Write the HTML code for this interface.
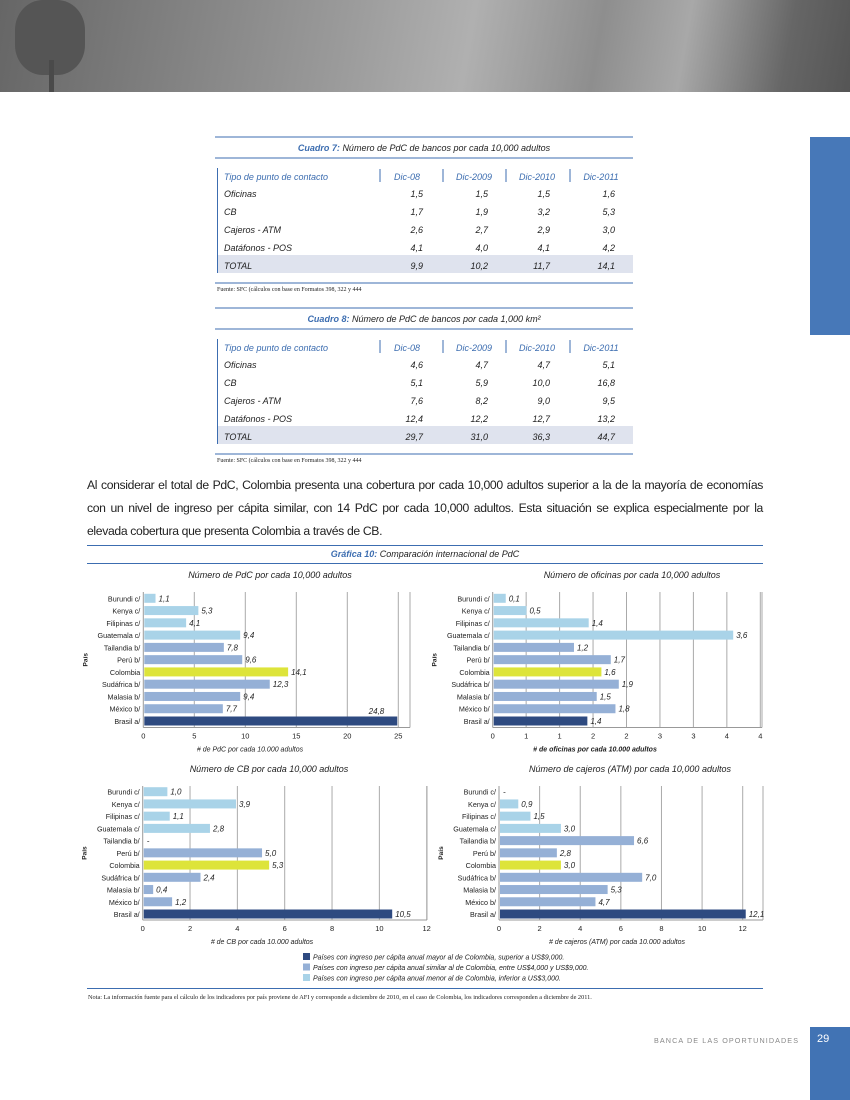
<!DOCTYPE html>
<html><head><meta charset="utf-8">
<style>
html,body{margin:0;padding:0;background:#fff;}
body{width:850px;height:1100px;position:relative;overflow:hidden;font-family:"Liberation Sans",sans-serif;}
.para{position:absolute;left:87px;width:676px;top:474px;font-size:12.2px;line-height:23px;text-align:justify;color:#222;letter-spacing:-0.35px;}
</style></head>
<body>
<div style="position:absolute;left:0;top:0;width:850px;height:92px;background:linear-gradient(100deg,#666 0%,#808080 20%,#9a9a9a 40%,#b0b0b0 55%,#8e8e8e 70%,#a8a8a8 80%,#666 92%,#555 100%);"></div>
<div style="position:absolute;left:15px;top:0;width:70px;height:75px;border-radius:40%;background:#555;"></div>
<div style="position:absolute;left:49px;top:60px;width:5px;height:32px;background:#4a4a4a;"></div>
<div style="position:absolute;left:810px;top:137px;width:40px;height:198px;background:#4778b8;"></div>
<div style="position:absolute;left:810px;top:1027px;width:40px;height:73px;background:#4173b4;"></div>
<div style="position:absolute;left:817px;top:1033px;color:#fff;font-size:11px;">29</div>
<div style="position:absolute;left:654px;top:1036px;color:#888;font-size:7.2px;letter-spacing:1.1px;">BANCA DE LAS OPORTUNIDADES</div>
<p class="para" style="margin:0;">Al considerar el total de PdC, Colombia presenta una cobertura por cada 10,000 adultos superior a la de la mayoría de economías con un nivel de ingreso per cápita similar, con 14 PdC por cada 10,000 adultos. Esta situación se explica especialmente por la elevada cobertura que presenta Colombia a través de CB.</p>
<svg id="pg" width="850" height="1100" style="position:absolute;left:0;top:0;" xmlns="http://www.w3.org/2000/svg" font-family="Liberation Sans, sans-serif"></svg>
<script>
// ---- table data ----
const tableYears = ["Dic-08","Dic-2009","Dic-2010","Dic-2011"];
const tableRows = ["Oficinas","CB","Cajeros - ATM","Datáfonos - POS","TOTAL"];
const t7Values = [["1,5","1,5","1,5","1,6"],["1,7","1,9","3,2","5,3"],["2,6","2,7","2,9","3,0"],["4,1","4,0","4,1","4,2"],["9,9","10,2","11,7","14,1"]];
const t8Values = [["4,6","4,7","4,7","5,1"],["5,1","5,9","10,0","16,8"],["7,6","8,2","9,0","9,5"],["12,4","12,2","12,7","13,2"],["29,7","31,0","36,3","44,7"]];
// ---- chart data ----
const countries = ["Burundi c/","Kenya c/","Filipinas c/","Guatemala c/","Tailandia b/","Perú b/","Colombia","Sudáfrica b/","Malasia b/","México b/","Brasil a/"];
const groups = ["c","c","c","c","b","b","col","b","b","b","a"];
const pdcValues = [1.1,5.3,4.1,9.4,7.8,9.6,14.1,12.3,9.4,7.7,24.8];
const pdcLabels = ["1,1","5,3","4,1","9,4","7,8","9,6","14,1","12,3","9,4","7,7","24,8"];
const ofiValues = [0.1,0.5,1.4,3.6,1.2,1.7,1.6,1.9,1.5,1.8,1.4];
const ofiBarValues = [0.18,0.49,1.42,3.58,1.2,1.75,1.61,1.87,1.54,1.82,1.4];
const ofiLabels = ["0,1","0,5","1,4","3,6","1,2","1,7","1,6","1,9","1,5","1,8","1,4"];
const cbValues = [1.0,3.9,1.1,2.8,0,5.0,5.3,2.4,0.4,1.2,10.5];
const cbLabels = ["1,0","3,9","1,1","2,8","-","5,0","5,3","2,4","0,4","1,2","10,5"];
const atmValues = [0,0.9,1.5,3.0,6.6,2.8,3.0,7.0,5.3,4.7,12.1];
const atmLabels = ["-","0,9","1,5","3,0","6,6","2,8","3,0","7,0","5,3","4,7","12,1"];
const pdcTicks = ["0","5","10","15","20","25"];
const ofiTicks = ["0","1","1","2","2","3","3","4","4"];
const cbTicks = ["0","2","4","6","8","10","12"];
const atmTicks = ["0","2","4","6","8","10","12"];
const legendItems = ["Países con ingreso per cápita anual mayor al de Colombia, superior a US$9,000.","Países con ingreso per cápita anual similar al de Colombia, entre US$4,000 y US$9,000.","Países con ingreso per cápita anual menor al de Colombia, inferior a US$3,000."];

const NS="http://www.w3.org/2000/svg";
const svg=document.getElementById('pg');
function mk(tag,attrs,parent,text){const e=document.createElementNS(NS,tag);for(const k in attrs)e.setAttribute(k,attrs[k]);if(text!==undefined)e.textContent=text;(parent||svg).appendChild(e);return e;}
const BLUE="#3c6db0";

function table(y0,titleNum,titleText,vals,name){
  const g=mk('g',{});
  
  
  mk('line',{x1:215,x2:633,y1:y0,y2:y0,stroke:BLUE,'stroke-width':1},g);
  const t=mk('text',{x:424,y:y0+14,'text-anchor':'middle','font-size':9,'font-style':'italic',fill:'#222'},g);
  mk('tspan',{fill:BLUE,'font-weight':'bold'},t,titleNum+' ');
  mk('tspan',{},t,titleText);
  mk('line',{x1:215,x2:633,y1:y0+21,y2:y0+21,stroke:BLUE,'stroke-width':1},g);
  mk('rect',{x:217,y:y0+118,width:416,height:18,fill:'#dfe3ee'},g);
  mk('line',{x1:217.5,x2:217.5,y1:y0+31,y2:y0+136,stroke:BLUE},g);
  [380,443,506,570].forEach(x=>mk('line',{x1:x,x2:x,y1:y0+32,y2:y0+45,stroke:BLUE},g));
  mk('text',{x:224,y:y0+43,'font-size':9,'font-style':'italic',fill:BLUE},g,'Tipo de punto de contacto');
  const hx=[407,474,537,601], vx=[423,488,550,615];
  tableYears.forEach((h,i)=>mk('text',{x:hx[i],y:y0+43,'text-anchor':'middle','font-size':9,'font-style':'italic',fill:BLUE},g,h));
  tableRows.forEach((r,j)=>{
    const yy=y0+60+j*18;
    mk('text',{x:224,y:yy,'font-size':9,'font-style':'italic',fill:'#222'},g,r);
    vals[j].forEach((v,i)=>mk('text',{x:vx[i],y:yy,'text-anchor':'end','font-size':9,'font-style':'italic',fill:'#222'},g,v));
  });
  mk('line',{x1:215,x2:633,y1:y0+146,y2:y0+146,stroke:BLUE},g);
  mk('text',{x:217,y:y0+154,'font-size':6,fill:'#222','font-family':'Liberation Serif, serif'},g,'Fuente: SFC (cálculos con base en Formatos 398, 322 y 444');
}
table(137,'Cuadro 7:','Número de PdC de bancos por cada 10,000 adultos',t7Values,'table-cuadro-7');
table(308,'Cuadro 8:','Número de PdC de bancos por cada 1,000 km²',t8Values,'table-cuadro-8');

// graph header
mk('line',{x1:87,x2:763,y1:545.5,y2:545.5,stroke:BLUE});
const gt=mk('text',{x:425,y:557,'text-anchor':'middle','font-size':9,'font-style':'italic',fill:'#222'});


mk('tspan',{fill:BLUE,'font-weight':'bold'},gt,'Gráfica 10: ');
mk('tspan',{},gt,'Comparación internacional de PdC');
mk('line',{x1:87,x2:763,y1:563.5,y2:563.5,stroke:BLUE});

const colors={a:'#2e4a80',b:'#95b0d6',c:'#a9d3e8',col:'#dde43a'};
function chart(cfg){
  const g=mk('g',{});
  
  
  const xs=v=>cfg.x0+(v/cfg.max)*(cfg.x1-cfg.x0);
  const n=countries.length;
  const ys=i=>cfg.yb0+i*(cfg.yb1-cfg.yb0)/(n-1);
  const tt=mk('text',{x:cfg.tx,y:cfg.top-14,'text-anchor':'middle','font-size':9,'font-style':'italic',fill:'#222'},g,cfg.title);
  
  
  cfg.ticks.forEach((t,i)=>{
    const v=i*cfg.max/(cfg.ticks.length-1), x=xs(v);
    if(i>0) mk('line',{x1:x,x2:x,y1:cfg.top,y2:cfg.axis,stroke:'#aaa','stroke-width':1},g);
    const tl=mk('text',{x:x,y:cfg.axis+11,'text-anchor':'middle','font-size':7.5,fill:'#222'},g,t);
    
    
  });
  mk('line',{x1:cfg.right,x2:cfg.right,y1:cfg.top,y2:cfg.axis,stroke:'#aaa'},g);
  mk('line',{x1:cfg.x0,x2:cfg.right,y1:cfg.axis,y2:cfg.axis,stroke:'#999'},g);
  mk('line',{x1:cfg.x0,x2:cfg.x0,y1:cfg.top,y2:cfg.axis,stroke:'#999'},g);
  countries.forEach((c,i)=>{
    const y=ys(i), v=cfg.bars[i];
    const cl=mk('text',{x:cfg.x0-3,y:y+3,'text-anchor':'end','font-size':7.2,fill:'#222'},g,c);
    
    
    if(v>0){
      const r=mk('rect',{x:cfg.x0+1,y:y-4.5,width:xs(v)-cfg.x0,height:9,fill:colors[groups[i]]},g);
      
      
    }
    let lx=xs(v)+4, anchor='start', ly=y+3;
    if(cfg.insideLast && i===n-1){lx=xs(v)-12; anchor='end'; ly=y-7;}
    const vl=mk('text',{x:lx,y:ly,'text-anchor':anchor,'font-size':8,'font-style':'italic',fill:'#222'},g,cfg.labels[i]);
    
    
  });
  mk('text',{x:cfg.x0-cfg.yTitleOff,y:(cfg.top+cfg.axis)/2,'text-anchor':'middle','font-size':6.5,'font-weight':'bold',fill:'#222',transform:`rotate(-90 ${cfg.x0-cfg.yTitleOff} ${(cfg.top+cfg.axis)/2})`},g,'País');
  mk('text',{x:cfg.xtx,y:cfg.axis+24,'text-anchor':'middle','font-size':7,'font-style':'italic',fill:'#222','font-weight':cfg.boldX?'bold':'normal'},g,cfg.xtitle);
}
chart({name:'chart-pdc',title:'Número de PdC por cada 10,000 adultos',tx:270,x0:143.3,x1:398.3,max:25,right:410,top:592,axis:727.5,yb0:598.3,yb1:721,ticks:pdcTicks,bars:pdcValues,labels:pdcLabels,xtitle:'# de PdC por cada 10.000 adultos',xtx:250,yTitleOff:56,insideLast:true});
chart({name:'chart-oficinas',title:'Número de oficinas por cada 10,000 adultos',tx:632,x0:492.7,x1:760.3,max:4,right:762,top:592,axis:727.5,yb0:598.3,yb1:721,ticks:ofiTicks,bars:ofiBarValues,labels:ofiLabels,xtitle:'# de oficinas por cada 10.000 adultos',xtx:595,boldX:true,yTitleOff:56});
chart({name:'chart-cb',title:'Número de CB por cada 10,000 adultos',tx:269,x0:142.7,x1:426.7,max:12,right:427,top:786,axis:920,yb0:791.7,yb1:914,ticks:cbTicks,bars:cbValues,labels:cbLabels,xtitle:'# de CB por cada 10.000 adultos',xtx:262,yTitleOff:56});
chart({name:'chart-cajeros',title:'Número de cajeros (ATM) por cada 10,000 adultos',tx:630,x0:499,x1:742.7,max:12,right:763,top:786,axis:920,yb0:791.7,yb1:914,ticks:atmTicks,bars:atmValues,labels:atmLabels,xtitle:'# de cajeros (ATM) por cada 10.000 adultos',xtx:617,yTitleOff:56});

// legend
const lc=[colors.a,colors.b,colors.c];
legendItems.forEach((t,i)=>{
  const y=958+i*10.5;
  const r=mk('rect',{x:303,y:y-5,width:7,height:7,fill:lc[i]});
  
  
  const tx=mk('text',{x:313,y:y+1.5,'font-size':7,'font-style':'italic',fill:'#222'},svg,t);
  
  
});
mk('line',{x1:87,x2:763,y1:988.5,y2:988.5,stroke:BLUE});
const note=mk('text',{x:88,y:999,'font-size':6.3,fill:'#222','font-family':'Liberation Serif, serif'},svg,'Nota: La información fuente para el cálculo de los indicadores por país proviene de AFI y corresponde a diciembre de 2010, en el caso de Colombia, los indicadores corresponden a diciembre de 2011.');


</script>
</body></html>
